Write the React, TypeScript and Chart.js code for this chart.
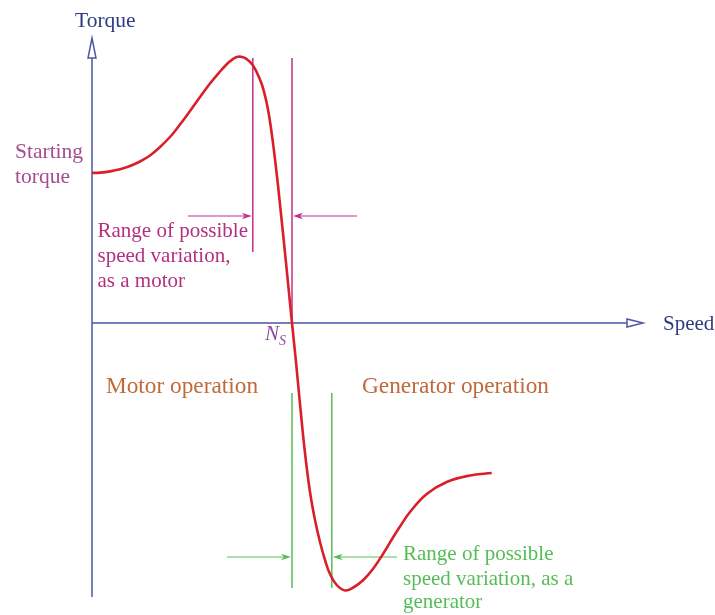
import { useEffect, useRef } from "react";
import { Chart, registerables } from "chart.js";

Chart.register(...registerables);

// ---- Data (speed in % of synchronous speed, torque in arbitrary units) ----
const speed = [0, 4, 9, 14, 19, 24, 29, 34, 39, 44, 49, 54, 59, 64, 67, 69, 71, 73, 75, 77, 80.35, 84, 86, 88, 90, 92, 94, 97, 100, 102, 104, 106.5, 109, 111.5, 114, 116.5, 119, 122.35, 126.5, 130.65, 135.65, 140.65, 145.65, 150.65, 154, 159, 167.35, 177.35, 189, 199.85];
const torque = [75, 75.2, 75.8, 76.85, 78.5, 80.75, 83.75, 88, 93, 99.25, 106, 113, 119.75, 125.75, 129, 130.85, 132.35, 133.1, 133.05, 132.2, 129, 121.7, 115.7, 106.7, 93.7, 77.7, 59.3, 30.2, 0, -19.5, -40.5, -65, -84.5, -98.5, -109.5, -118.5, -125.5, -131, -133.75, -132.25, -128.5, -122.75, -115.25, -107, -101.75, -94.5, -85.5, -79.5, -76.25, -75];

const synchronousSpeed = 100;
const motorRange = [80.4, 100];
const generatorRange = [100, 119.9];

// axis extents (data units)
const X_MIN = -46, X_MAX = 311.5, Y_MIN = -146, Y_MAX = 161.5;
const X_AXIS_END = 275.5; // arrow tip of speed axis
const Y_AXIS_TOP = 142.5; // arrow tip of torque axis
const Y_AXIS_BOTTOM = -137;

// annotation layout (data units)
const motorLines = { top: 132.5, bottom: 35.5, arrowY: 53.5, leftStart: 48, rightStart: 132.5 };
const genLines = { top: -35, bottom: -132.5, arrowY: -117, leftStart: 67.5, rightStart: 152.5 };

const BLUE_AXIS = "#4b57a6";
const BLUE_TEXT = "#2e3b83";
const RED = "#d81f2a";
const MAGENTA = "#c2308e";
const MAGENTA_TEXT = "#b3307f";
const START_TEXT = "#a44d8c";
const GREEN = "#56bd56";
const ORANGE = "#c0693a";
const PURPLE = "#8b4c9c";

const FONT = "'Liberation Serif', 'DejaVu Serif', serif";

type Label = { text: string; x: number; y: number; color: string; size?: number; italic?: boolean };
const labels: Label[] = [
  { text: "Torque", x: -8.5, y: 148, color: BLUE_TEXT, size: 21.5 },
  { text: "Speed", x: 285.5, y: -3.5, color: BLUE_TEXT },
  { text: "Starting", x: -38.5, y: 82.5, color: START_TEXT, size: 21.5 },
  { text: "torque", x: -38.5, y: 70, color: START_TEXT, size: 21.5 },
  { text: "Range of possible", x: 2.75, y: 43, color: MAGENTA_TEXT },
  { text: "speed variation,", x: 2.75, y: 30.5, color: MAGENTA_TEXT },
  { text: "as a motor", x: 2.75, y: 18, color: MAGENTA_TEXT },
  { text: "Motor operation", x: 7, y: -35, color: ORANGE, size: 23.3 },
  { text: "Generator operation", x: 135, y: -35, color: ORANGE, size: 23.3 },
  { text: "Range of possible", x: 155.5, y: -118.5, color: GREEN },
  { text: "speed variation, as a", x: 155.5, y: -131, color: GREEN },
  { text: "generator", x: 155.5, y: -142.5, color: GREEN },
];

function arrowHead(ctx: CanvasRenderingContext2D, tipX: number, tipY: number, dir: number, color: string) {
  const len = 10, hw = 3.2;
  ctx.save();
  ctx.fillStyle = color;
  ctx.beginPath();
  ctx.moveTo(tipX, tipY);
  ctx.lineTo(tipX - dir * len, tipY - hw);
  ctx.lineTo(tipX - dir * len * 0.7, tipY);
  ctx.lineTo(tipX - dir * len, tipY + hw);
  ctx.closePath();
  ctx.fill();
  ctx.restore();
}

const annotationPlugin = {
  id: "annotations",
  beforeDatasetsDraw(chart: any) {
    const { ctx, scales } = chart;
    const X = (v: number) => scales.x.getPixelForValue(v);
    const Y = (v: number) => scales.y.getPixelForValue(v);
    ctx.save();

    // axes
    ctx.strokeStyle = BLUE_AXIS;
    ctx.lineWidth = 1.5;
    const ox = X(0), oy = Y(0);
    const yTip = Y(Y_AXIS_TOP);
    const xTip = X(X_AXIS_END);
    ctx.beginPath();
    ctx.moveTo(ox, Y(Y_AXIS_BOTTOM));
    ctx.lineTo(ox, yTip + 20);
    ctx.moveTo(ox, oy);
    ctx.lineTo(xTip - 16, oy);
    ctx.stroke();
    ctx.fillStyle = "#ffffff";
    ctx.beginPath();
    ctx.moveTo(ox, yTip);
    ctx.lineTo(ox - 4, yTip + 20);
    ctx.lineTo(ox + 4, yTip + 20);
    ctx.closePath();
    ctx.fill();
    ctx.stroke();
    ctx.beginPath();
    ctx.moveTo(xTip, oy);
    ctx.lineTo(xTip - 16, oy - 4);
    ctx.lineTo(xTip - 16, oy + 4);
    ctx.closePath();
    ctx.fill();
    ctx.stroke();

    // motor range lines
    ctx.strokeStyle = MAGENTA;
    ctx.lineWidth = 1.5;
    ctx.beginPath();
    ctx.moveTo(X(motorRange[0]), Y(motorLines.top));
    ctx.lineTo(X(motorRange[0]), Y(motorLines.bottom));
    ctx.moveTo(X(motorRange[1]), Y(motorLines.top));
    ctx.lineTo(X(motorRange[1]), Y(0));
    ctx.stroke();
    ctx.lineWidth = 1.2;
    ctx.beginPath();
    ctx.moveTo(X(motorLines.leftStart), Y(motorLines.arrowY));
    ctx.lineTo(X(motorRange[0]) - 4, Y(motorLines.arrowY));
    ctx.moveTo(X(motorLines.rightStart), Y(motorLines.arrowY));
    ctx.lineTo(X(motorRange[1]) + 4, Y(motorLines.arrowY));
    ctx.stroke();
    arrowHead(ctx, X(motorRange[0]) - 1, Y(motorLines.arrowY), 1, MAGENTA);
    arrowHead(ctx, X(motorRange[1]) + 1, Y(motorLines.arrowY), -1, MAGENTA);

    // generator range lines
    ctx.strokeStyle = GREEN;
    ctx.lineWidth = 1.5;
    ctx.beginPath();
    ctx.moveTo(X(generatorRange[0]), Y(genLines.top));
    ctx.lineTo(X(generatorRange[0]), Y(genLines.bottom));
    ctx.moveTo(X(generatorRange[1]), Y(genLines.top));
    ctx.lineTo(X(generatorRange[1]), Y(genLines.bottom));
    ctx.stroke();
    ctx.lineWidth = 1.2;
    ctx.beginPath();
    ctx.moveTo(X(genLines.leftStart), Y(genLines.arrowY));
    ctx.lineTo(X(generatorRange[0]) - 4, Y(genLines.arrowY));
    ctx.moveTo(X(genLines.rightStart), Y(genLines.arrowY));
    ctx.lineTo(X(generatorRange[1]) + 4, Y(genLines.arrowY));
    ctx.stroke();
    arrowHead(ctx, X(generatorRange[0]) - 1, Y(genLines.arrowY), 1, GREEN);
    arrowHead(ctx, X(generatorRange[1]) + 1, Y(genLines.arrowY), -1, GREEN);

    ctx.restore();
  },
  afterDraw(chart: any) {
    const { ctx, scales } = chart;
    const X = (v: number) => scales.x.getPixelForValue(v);
    const Y = (v: number) => scales.y.getPixelForValue(v);
    ctx.save();
    ctx.textBaseline = "alphabetic";
    ctx.textAlign = "left";
    for (const l of labels) {
      ctx.font = `${l.italic ? "italic " : ""}${l.size ?? 21}px ${FONT}`;
      ctx.fillStyle = l.color;
      ctx.fillText(l.text, X(l.x), Y(l.y));
    }
    // N_S label
    ctx.fillStyle = PURPLE;
    ctx.font = `italic 21px ${FONT}`;
    const nx = X(synchronousSpeed - 13.5), ny = Y(-8.5);
    ctx.fillText("N", nx, ny);
    const w = ctx.measureText("N").width;
    ctx.font = `italic 14px ${FONT}`;
    ctx.fillText("S", nx + w, ny + 5);
    ctx.restore();
  },
};

export default function App() {
  const ref = useRef<HTMLCanvasElement | null>(null);
  useEffect(() => {
    if (!ref.current) return;
    const chart = new Chart(ref.current, {
      type: "scatter",
      data: {
        datasets: [
          {
            label: "Torque-speed",
            data: speed.map((s, i) => ({ x: s, y: torque[i] })),
            showLine: true,
            borderColor: RED,
            borderWidth: 2.6,
            pointRadius: 0,
            tension: 0.4,
            fill: false,
          },
        ],
      },
      options: {
        animation: false,
        responsive: true,
        maintainAspectRatio: false,
        layout: { padding: 0 },
        plugins: { legend: { display: false }, tooltip: { enabled: false } },
        scales: {
          x: { type: "linear", min: X_MIN, max: X_MAX, display: false },
          y: { type: "linear", min: Y_MIN, max: Y_MAX, display: false },
        },
      },
      plugins: [annotationPlugin],
    });
    return () => chart.destroy();
  }, []);
  return (
    <div style={{ position: "fixed", left: 0, top: 0, width: 715, height: 615, background: "#ffffff" }}>
      <canvas ref={ref} />
    </div>
  );
}
